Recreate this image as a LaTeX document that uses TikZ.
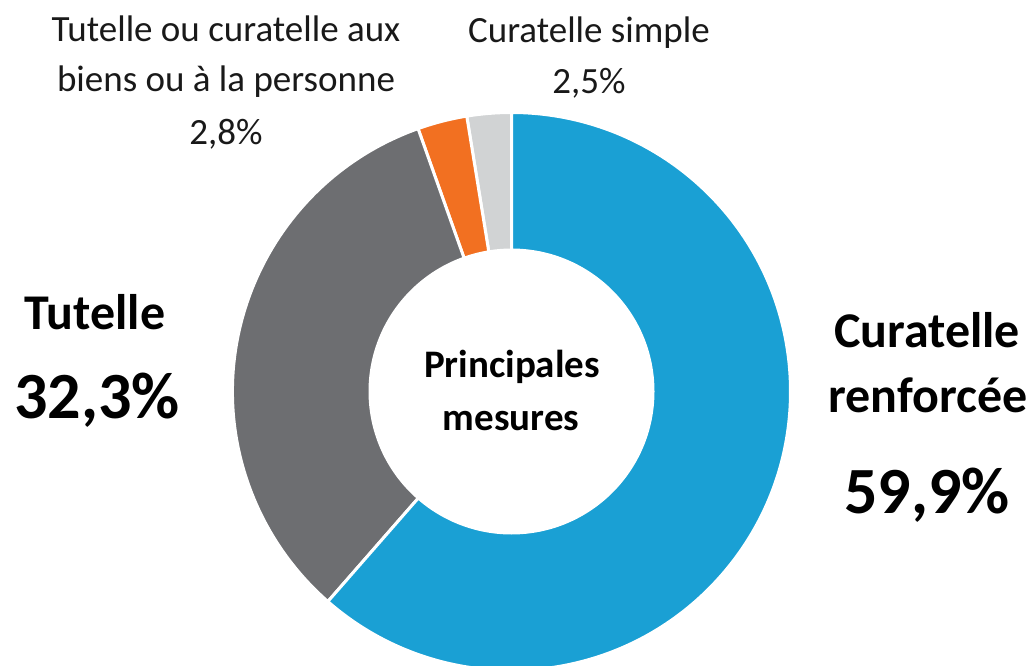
\documentclass[tikz,border=0pt]{standalone}
\usepackage{fontspec}
\setmainfont{Carlito}
\definecolor{cblue}{HTML}{1AA0D4}
\definecolor{cdark}{HTML}{6D6E71}
\definecolor{corange}{HTML}{F27021}
\definecolor{clight}{HTML}{D1D3D4}
\tikzset{
  slice/.style={draw=white, line width=3pt, line join=round},
  small/.style={anchor=base, inner sep=0pt, font=\fontsize{37}{44}\selectfont, text=black!90},
  bigname/.style={anchor=base, inner sep=0pt, font=\bfseries\fontsize{50}{60}\selectfont},
  bignum/.style={anchor=base, inner sep=0pt, font=\bfseries\fontsize{66}{80}\selectfont},
  center/.style={anchor=base, inner sep=0pt, font=\bfseries\fontsize{39}{46}\selectfont}
}
\begin{document}
\begin{tikzpicture}[x=1pt,y=1pt]
\useasboundingbox (0,0) rectangle (1036,665);
\clip (0,0) rectangle (1036,665);
\coordinate (C) at (511.5,273.5);
% slices: start at top, counterclockwise: light, orange, dark, blue
\fill[clight, slice, shift={(C)}] (90:279pt) arc[start angle=90, end angle=99.23, radius=279pt] -- (99.23:141.5pt) arc[start angle=99.23, end angle=90, radius=141.5pt] -- cycle;
\fill[corange, slice, shift={(C)}] (99.23:279pt) arc[start angle=99.23, end angle=109.57, radius=279pt] -- (109.57:141.5pt) arc[start angle=109.57, end angle=99.23, radius=141.5pt] -- cycle;
\fill[cdark, slice, shift={(C)}] (109.57:279pt) arc[start angle=109.57, end angle=228.83, radius=279pt] -- (228.83:141.5pt) arc[start angle=228.83, end angle=109.57, radius=141.5pt] -- cycle;
\fill[cblue, slice, shift={(C)}] (228.83:279pt) arc[start angle=228.83, end angle=450, radius=279pt] -- (450:141.5pt) arc[start angle=450, end angle=228.83, radius=141.5pt] -- cycle;
\fill[white] (C) circle[radius=141.5pt];
% labels
\node[small] (l1a) at (226,623) {Tutelle ou curatelle aux};
\node[small] (l1b) at (226,573) {biens ou à la personne};
\node[small] (l1c) at (226,520) {2,8\%};
\node[small] (l2a) at (589,622) {Curatelle simple};
\node[small] (l2b) at (589,571) {2,5\%};
\node[bigname] (t1) at (95,335) {Tutelle};
\node[bignum] (t2) at (97,247) {32,3\%};
\node[bigname] (c1) at (927,317) {Curatelle};
\node[bigname] (c2) at (928,253) {renforcée};
\node[bignum] (c3) at (927,152) {59,9\%};
\node[center] (m1) at (512,288) {Principales};
\node[center] (m2) at (511,235) {mesures};
\end{tikzpicture}
\end{document}
